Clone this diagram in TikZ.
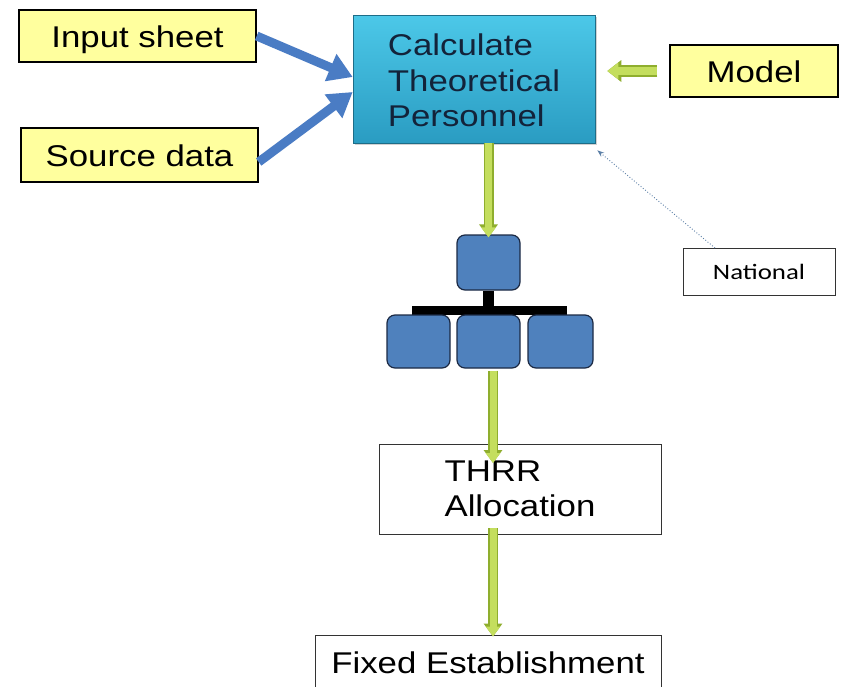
\documentclass[tikz,border=0pt]{standalone}
\usepackage{fontspec}
\setmainfont{Liberation Sans}
\newfontfamily\calfont{Carlito}
\usepackage{graphicx}
\usetikzlibrary{arrows.meta,shadows,backgrounds}
\definecolor{ybox}{HTML}{FFFF9E}
\definecolor{calctop}{HTML}{4CC8E8}
\definecolor{calcbot}{HTML}{2A9CC2}
\definecolor{calctext}{HTML}{13233A}
\definecolor{bluearr}{HTML}{4A7CC4}
\definecolor{orgfill}{HTML}{4F81BD}
\definecolor{orgdraw}{HTML}{1C2A44}
\definecolor{grnin}{HTML}{C4DE5E}
\definecolor{grnout}{HTML}{8FAE2E}
\definecolor{dotcol}{HTML}{5B7FA6}
\newcommand{\hs}[1]{\scalebox{1.16}[1]{#1}}
\tikzset{
  bigfont/.style={font=\fontsize{30}{35.5}\selectfont},
  ybox/.style={draw=black, line width=1.4pt, fill=ybox, inner sep=0pt, bigfont,
    text height=22pt, text depth=0pt},
  wbox/.style={draw=black!80, line width=1pt, fill=white, inner sep=0pt, bigfont},
  calcbox/.style={inner sep=0pt, top color=calctop, bottom color=calcbot, draw=calcbot!70!black,
    line width=0.6pt, text=calctext, bigfont,
    drop shadow={opacity=0.35, shadow xshift=2pt, shadow yshift=-2pt}},
  orgbox/.style={draw=orgdraw, line width=1.2pt, fill=orgfill, rounded corners=8pt,
    minimum width=63pt, minimum height=54pt, inner sep=0pt},
  bluearrow/.style={draw=bluearr, line width=9pt, -{Triangle[length=24pt,width=28pt]}},
  greenarrow/.style={draw=grnin, line width=7pt, -{Triangle[length=10pt,width=14pt]},
    preaction={draw=grnout, line width=10pt, -{Triangle[length=13pt,width=18pt]}}},
  modelarrow/.style={draw=grnin, line width=8pt, -{Triangle[length=11pt,width=16pt]},
    preaction={draw=grnout, line width=12pt, -{Triangle[length=14pt,width=21pt]}}},
  dotarrow/.style={draw=dotcol, line width=0.9pt, dotted, -{Stealth[length=7pt,width=5pt]}},
  tbar/.style={draw=black, line width=9pt}
}
\begin{document}
\begin{tikzpicture}[x=1pt,y=-1pt]
\useasboundingbox (0,0) rectangle (843,686);
\clip (0,0) rectangle (843,686);

% nodes
\node[ybox, minimum width=237pt, minimum height=52pt] (input) at (137.5,36) {\hs{Input sheet}};
\node[ybox, minimum width=237pt, minimum height=54pt] (source) at (139.5,155) {\hs{Source data}};
\node[calcbox, minimum width=242pt, minimum height=128pt] (calc) at (474,79)
  {\raisebox{-5pt}[\height][\depth]{\hs{\begin{tabular}{@{}l@{}}Calculate\\Theoretical\\Personnel\end{tabular}}}};
\node[ybox, minimum width=168pt, minimum height=52pt] (model) at (754,71) {\hs{Model}};
\node[draw=black!80, line width=1pt, fill=white, inner sep=0pt, minimum width=152pt, minimum height=47pt,
  font=\calfont\fontsize{22}{26}\selectfont, text height=15pt, text depth=0pt] (national) at (759,272) {\scalebox{1.22}[1]{National}};

\node[orgbox, minimum height=55pt] (top) at (488.5,262.5) {};
\node[orgbox, minimum height=53pt] (left) at (418.5,341.5) {};
\node[orgbox, minimum height=53pt] (mid) at (488.5,341.5) {};
\node[orgbox, minimum height=53pt, minimum width=65pt] (right) at (560.5,341.5) {};

\node[wbox, minimum width=282pt, minimum height=90pt] (thrr) at (520,489)
  {\raisebox{-3pt}[\height][\depth]{\hs{\begin{tabular}{@{}l@{}}THRR\\Allocation\end{tabular}}}};
\node[wbox, minimum width=346pt, minimum height=56pt] (fe) at (488,663) {\hs{Fixed Establishment}};

% org chart bar
\coordinate (barL) at (412,310);
\coordinate (barR) at (567,310);
\begin{scope}[on background layer]
  \fill[white] (0,0) rectangle (843,686);
  \draw[tbar] (barL) -- (barR);
  \draw[draw=black, line width=11pt] (top.south) -- (top.south |- barL);
\end{scope}

% connectors
\draw[bluearrow] (input.east) -- ([yshift=2pt]calc.west);
\draw[bluearrow] ([yshift=-7pt]source.east) -- ([yshift=-13pt]calc.west);
\draw[modelarrow] ([xshift=-12pt]model.west) -- ([xshift=12pt,yshift=8pt]calc.east);
\draw[dotarrow] ([xshift=-44pt]national.north) -- ([xshift=2pt,yshift=-7pt]calc.south east);

\draw[greenarrow] (calc.south -| top) -- ([yshift=-3pt]top.north);
\coordinate (a2e) at (493,463);
\draw[greenarrow] ([yshift=-2pt]mid.south -| a2e) -- (a2e);
\coordinate (a3s) at (493,528);
\draw[greenarrow] (a3s) -- ([yshift=-2pt]a3s |- fe.north);
\end{tikzpicture}
\end{document}
